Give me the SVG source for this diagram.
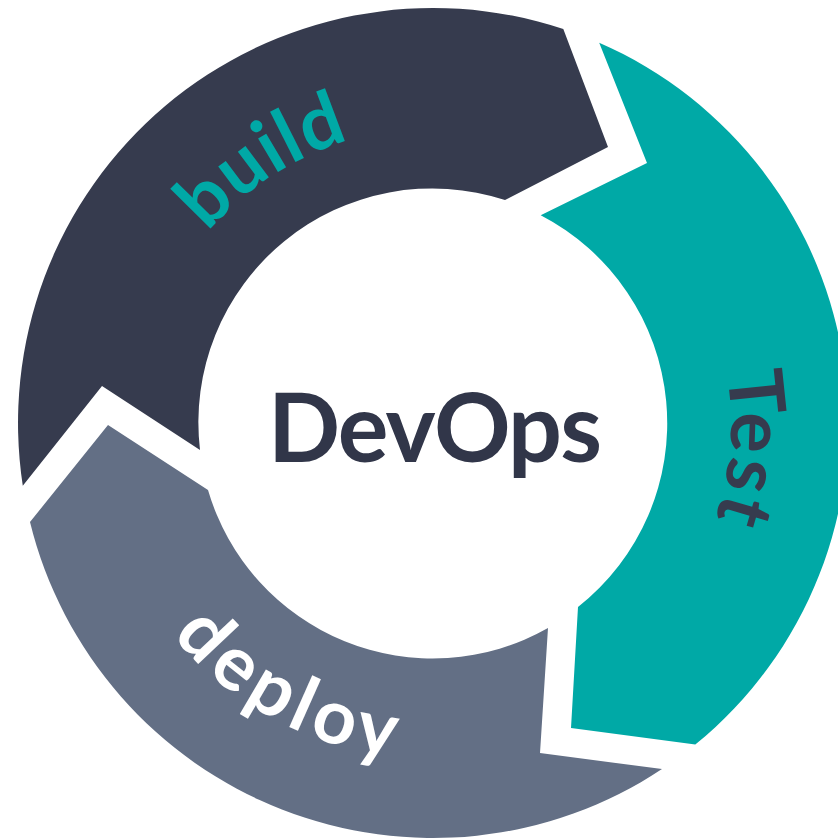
<svg xmlns="http://www.w3.org/2000/svg" width="838" height="838" viewBox="0 0 838 838">
  <style>
    .lbl { font-family: Lato, "Liberation Sans", sans-serif; font-weight: 700; font-size: 76px; }
    .ctr { font-family: Lato, "Liberation Sans", sans-serif; font-weight: 700; font-size: 95px; fill: #313649; }
  </style>
  <defs>
    <path id="pBuild" d="M 138.4,438.4 A 295 295 0 0 1 566.9,160.2"/>
    <path id="pTest" d="M 602.7,178.0 A 298 298 0 0 1 560.4,692.4"/>
    <path id="pDeploy" d="M 97.1,433.0 A 336 336 0 0 0 609.6,708.9"/>
  </defs>
  <rect width="838" height="838" fill="#ffffff"/>
  <g id="connectors"></g>
  <g id="build">
    <path d="M 22.8,485.8 A 415 415 0 0 1 563.3,29.0 L 608,147 L 505,200 A 234 234 0 0 0 200,450 L 102,386 Z" fill="#363b4e"/>
    <text class="lbl" fill="#00a9a6" letter-spacing="1"><textPath href="#pBuild" startOffset="50%" text-anchor="middle">build</textPath></text>
  </g>
  <g id="test">
    <path d="M 599.2,42.7 A 415 415 0 0 1 695.3,744.6 L 571,728 L 578,607 A 234 234 0 0 0 540.7,215.3 L 647,163 Z" fill="#00a9a6"/>
    <text class="lbl" fill="#363b4e" font-size="72" letter-spacing="3"><textPath href="#pTest" startOffset="50%" text-anchor="middle">Test</textPath></text>
  </g>
  <g id="deploy">
    <path d="M 662,769.1 A 415 415 0 0 1 30,522 L 108,425 L 208,490 A 234 234 0 0 0 548,628 L 540,753 Z" fill="#636f85"/>
    <text class="lbl" fill="#ffffff" letter-spacing="6"><textPath href="#pDeploy" startOffset="50%" text-anchor="middle">deploy</textPath></text>
  </g>
  <g id="devops">
    <text class="ctr" x="435" y="462" text-anchor="middle" textLength="334">DevOps</text>
  </g>
</svg>
